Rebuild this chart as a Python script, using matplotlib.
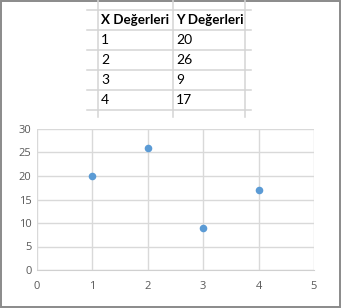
import matplotlib
matplotlib.use("Agg")
import matplotlib.pyplot as plt
from matplotlib.patches import Rectangle

# data
headers = ["X Değerleri", "Y Değerleri"]
x_vals = [1, 2, 3, 4]
y_vals = [20, 26, 9, 17]

W, H = 341, 308
fig = plt.figure(figsize=(W / 100, H / 100), dpi=100)

# sheet layer in pixel coordinates
bg = fig.add_axes([0, 0, 1, 1])
bg.set_xlim(0, W)
bg.set_ylim(H, 0)
bg.axis("off")

grid_c = "#d4d4d4"
col_x = [98, 173, 245]
row_y = [10, 30, 50, 70, 90, 110]
for cx in col_x:
    bg.plot([cx, cx], [0, 117], color=grid_c, lw=1.1)
for ry in row_y:
    bg.plot([87, 251], [ry, ry], color=grid_c, lw=1.1)

bg.text(101, 20.5, headers[0], fontsize=9.6, fontweight="bold", family="Lato", va="center", color="#000000")
bg.text(176, 20.5, headers[1], fontsize=9.6, fontweight="bold", family="Lato", va="center", color="#000000")
for i, (xv, yv) in enumerate(zip(x_vals, y_vals)):
    ry = 40.5 + 20 * i
    bg.text(101, ry, str(xv), fontsize=10, family="Lato", va="center", color="#000000")
    bg.text(176, ry, str(yv), fontsize=10, family="Lato", va="center", color="#000000")

# outer frame
bg.add_patch(Rectangle((0.7, 0.7), W - 1.9, H - 1.9, fill=False, edgecolor="#8a8a8a", lw=1.4))

# chart
left, right, top, bottom = 37, 314, 129, 270
ax = fig.add_axes([left / W, (H - bottom) / H, (right - left) / W, (bottom - top) / H])
ax.scatter(x_vals, y_vals, s=30, color="#5b9bd5", zorder=3, linewidths=0)
ax.set_xlim(0, 5)
ax.set_ylim(0, 30)
ax.set_xticks(range(0, 6))
ax.set_yticks(range(0, 31, 5))
ax.grid(True, color="#d9d9d9", lw=1)
for s in ax.spines.values():
    s.set_visible(False)
ax.spines["bottom"].set_visible(True)
ax.spines["bottom"].set_color("#d0d0d0")
ax.tick_params(length=0, labelsize=8, labelcolor="#595959", pad=4)
ax.tick_params(axis="x", pad=8)
for lbl in ax.get_xticklabels() + ax.get_yticklabels():
    lbl.set_family("Open Sans")

fig.savefig("out.png", dpi=100)
